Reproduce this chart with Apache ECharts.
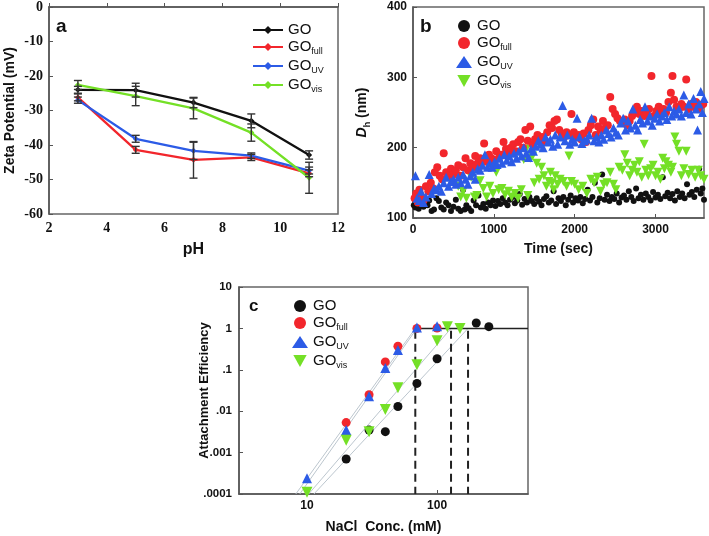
<!DOCTYPE html>
<html><head><meta charset="utf-8">
<script src="https://cdn.jsdelivr.net/npm/echarts@6/dist/echarts.min.js"></script>
<style>html,body{margin:0;padding:0;background:#fff}#c{width:709px;height:536px}</style>
</head><body><div id="c"></div>
<script>
// ---------- Panel a: zeta potential vs pH ----------
const phVals = [3, 5, 7, 9, 11];
const zetaGO = [-24.0, -24.1, -27.7, -33.0, -42.9];
const zetaFull = [-26.2, -41.4, -44.3, -43.6, -48.2];
const zetaUV = [-27.0, -38.2, -41.7, -43.1, -47.4];
const zetaVis = [-22.6, -25.8, -29.4, -36.4, -49.5];
const errGO = [1.0, 2.0, 1.5, 2.0, 1.2];
const errFull = [1.0, 1.0, 5.3, 0.9, 1.0];
const errUV = [0.9, 1.0, 2.5, 0.8, 1.0];
const errVis = [1.3, 2.8, 3.0, 2.5, 4.5];
const phTicks = [2, 4, 6, 8, 10, 12];
const zetaTicks = [0, -10, -20, -30, -40, -50, -60];

// ---------- Panel b: hydrodynamic diameter vs time ----------
const dhGO = [[10,118],[30,115],[50,120],[70,113],[90,117],[110,119],[130,116],[150,121],[180,118],[200,125],[230,110],[260,112],[290,128],[320,124],[350,115],[380,112],[410,122],[440,118],[470,110],[500,116],[530,126],[560,113],[590,110],[620,140],[640,112],[660,118],[690,114],[720,110],[750,125],[780,118],[810,132],[840,115],[870,120],[900,113],[930,122],[960,118],[990,125],[1020,117],[1050,124],[1080,120],[1110,128],[1140,122],[1170,118],[1200,126],[1230,130],[1260,121],[1290,125],[1320,134],[1350,119],[1380,127],[1410,122],[1440,130],[1470,124],[1500,120],[1530,128],[1560,123],[1590,118],[1620,127],[1650,131],[1680,122],[1710,125],[1740,138],[1770,120],[1800,128],[1830,124],[1860,130],[1890,118],[1920,126],[1950,132],[1980,122],[2010,128],[2040,125],[2070,130],[2100,121],[2130,127],[2160,140],[2190,125],[2220,130],[2250,150],[2280,122],[2310,128],[2340,162],[2370,126],[2400,133],[2430,124],[2460,130],[2490,127],[2520,135],[2550,122],[2580,129],[2610,132],[2640,126],[2670,138],[2700,130],[2730,124],[2760,142],[2790,128],[2820,133],[2850,126],[2880,135],[2910,130],[2940,125],[2970,137],[3000,129],[3030,133],[3060,127],[3090,158],[3120,131],[3150,136],[3180,128],[3210,134],[3240,125],[3270,138],[3300,130],[3330,135],[3360,128],[3390,148],[3420,133],[3450,137],[3480,130],[3510,140],[3540,170],[3560,135],[3580,142],[3600,126]];
const dhFull = [[20,128],[40,135],[60,122],[80,140],[100,130],[130,125],[160,145],[190,138],[220,150],[250,142],[270,165],[300,172],[330,160],[360,155],[380,192],[410,165],[440,158],[470,170],[500,162],[530,168],[560,175],[590,160],[620,172],[650,185],[680,168],[710,178],[740,172],[770,188],[800,178],[830,185],[860,182],[880,206],[910,180],[940,190],[970,185],[1000,182],[1030,195],[1060,185],[1090,190],[1120,208],[1150,198],[1180,192],[1210,200],[1240,205],[1270,195],[1300,208],[1330,212],[1360,200],[1390,225],[1420,210],[1450,230],[1480,205],[1510,212],[1540,218],[1570,210],[1600,215],[1630,208],[1660,222],[1690,232],[1720,228],[1750,238],[1780,240],[1810,225],[1840,220],[1870,215],[1900,222],[1930,218],[1960,248],[1990,222],[2020,215],[2050,218],[2080,212],[2110,220],[2140,208],[2170,225],[2200,232],[2230,240],[2260,218],[2290,230],[2320,225],[2350,238],[2380,228],[2410,232],[2440,272],[2470,255],[2500,248],[2530,242],[2560,238],[2590,235],[2620,240],[2650,232],[2680,238],[2710,245],[2740,250],[2770,258],[2800,248],[2830,252],[2860,245],[2890,250],[2920,255],[2950,302],[2980,245],[3010,252],[3040,258],[3070,248],[3100,255],[3130,250],[3160,265],[3190,278],[3210,302],[3230,268],[3260,258],[3290,255],[3320,262],[3350,258],[3380,297],[3410,255],[3440,262],[3470,258],[3500,265],[3530,255],[3560,260],[3590,262]];
const dhUV = [[30,160],[50,128],[80,125],[100,138],[130,122],[160,130],[200,162],[230,135],[260,142],[290,140],[320,145],[350,138],[380,150],[410,158],[440,145],[470,152],[500,155],[530,148],[560,158],[590,150],[620,162],[650,155],[680,148],[710,160],[740,165],[770,155],[800,170],[830,168],[860,175],[890,190],[920,172],[950,178],[980,172],[1010,180],[1040,176],[1070,185],[1100,178],[1130,190],[1160,182],[1190,188],[1220,180],[1250,192],[1280,185],[1310,195],[1340,188],[1370,200],[1400,192],[1430,186],[1460,198],[1490,195],[1520,202],[1550,210],[1580,205],[1610,200],[1640,215],[1670,208],[1700,212],[1730,202],[1760,218],[1790,205],[1820,215],[1850,260],[1880,210],[1910,218],[1940,205],[1970,212],[2000,208],[2030,242],[2060,215],[2090,206],[2120,210],[2150,212],[2180,218],[2210,242],[2240,210],[2270,215],[2300,208],[2330,218],[2360,212],[2390,225],[2420,220],[2450,215],[2480,228],[2510,222],[2540,218],[2570,235],[2600,242],[2630,225],[2660,238],[2690,228],[2720,255],[2750,232],[2780,225],[2810,240],[2840,235],[2870,258],[2900,238],[2930,245],[2960,232],[2990,242],[3020,248],[3050,238],[3080,245],[3110,250],[3140,240],[3170,258],[3200,245],[3230,252],[3260,248],[3290,255],[3320,245],[3350,275],[3380,250],[3410,262],[3440,248],[3470,270],[3500,255],[3520,225],[3540,262],[3560,280],[3580,250],[3600,270]];
const dhVis = [[560,145],[590,130],[620,138],[660,128],[700,165],[720,158],[760,130],[790,132],[830,153],[870,142],[910,130],[950,145],[990,135],[1030,165],[1060,140],[1100,142],[1140,133],[1180,138],[1220,130],[1260,135],[1300,128],[1340,140],[1370,183],[1400,198],[1420,132],[1450,185],[1480,188],[1500,150],[1530,178],[1560,155],[1590,172],[1620,160],[1650,145],[1680,152],[1700,165],[1720,150],[1740,140],[1760,160],[1790,148],[1820,155],[1860,152],[1900,145],[1930,188],[1960,152],[2000,148],[2050,140],[2100,145],[2150,135],[2200,155],[2240,150],[2280,158],[2320,138],[2360,148],[2400,150],[2440,165],[2480,148],[2510,140],[2550,172],[2590,168],[2620,190],[2650,178],[2680,160],[2710,168],[2740,175],[2770,165],[2800,180],[2830,158],[2860,205],[2880,168],[2910,160],[2940,170],[2970,175],[3000,160],[3030,165],[3060,155],[3090,185],[3110,170],[3130,180],[3160,175],[3190,165],[3210,172],[3240,215],[3260,205],[3290,195],[3320,160],[3350,170],[3380,195],[3410,162],[3450,168],[3490,158],[3530,168],[3560,160],[3600,155]];
const timeTicks = [0, 1000, 2000, 3000];
const dhTicks = [100, 200, 300, 400];

// ---------- Panel c: attachment efficiency vs NaCl ----------
const aeGO = [[20,0.0007],[30,0.0035],[40,0.0032],[50,0.013],[70,0.047],[100,0.185],[200,1.35],[250,1.1]];
const aeFull = [[20,0.0053],[30,0.025],[40,0.155],[50,0.37],[70,1.0],[100,1.02]];
const aeUV = [[10,0.00024],[20,0.0035],[30,0.023],[40,0.11],[50,0.3],[70,1.05],[100,1.12]];
const aeVis = [[10,0.00011],[20,0.002],[30,0.0032],[40,0.011],[50,0.037],[70,0.133],[100,0.5],[120,1.1],[150,1.0]];
const fitFull = [[8.2,0.0001],[68,1]];
const fitUV = [[8.8,0.0001],[70,1]];
const fitVis = [[10.3,0.0001],[128,1]];
const fitGO = [[11.3,0.0001],[173,1]];
const ccc = [68, 128, 173];
const plateau = [[68,1],[500,1]];
const naclTicks = [10, 100];
const aeTicks = [10, 1, 0.1, 0.01, 0.001, 0.0001];

const C_BLACK = '#111111', C_RED = '#f2262c', C_BLUE = '#2c5be6', C_GREEN = '#74e026';
const DOWN_TRI = 'path://M0,0 L10,0 L5,9 Z';

const chart = echarts.init(document.getElementById('c'), null, {renderer: 'canvas'});

const legendRich = {
  m: {fontSize: 15, fontFamily: 'Liberation Sans', color: '#111', lineHeight: 16, verticalAlign: 'top'},
  s: {fontSize: 9, fontFamily: 'Liberation Sans', color: '#111', lineHeight: 10, padding: [8, 0, 0, 0], verticalAlign: 'top'}
};
function legendFmt(name) {
  const p = name.split('-');
  return '{m|GO}' + (p[2] ? '{s|' + p[2] + '}' : '');
}
const sans = 'Liberation Sans';
function axisBase(extra) {
  return Object.assign({
    axisLine: {show: true, lineStyle: {color: '#555', width: 1.5}},
    axisTick: {show: true, inside: true, length: 4, lineStyle: {color: '#555'}},
    splitLine: {show: false},
    nameMoveOverlap: false
  }, extra);
}
function lineSeries(name, ys, color) {
  return {
    name: name, type: 'line', xAxisIndex: 0, yAxisIndex: 0,
    data: phVals.map((x, i) => [x, ys[i]]),
    symbol: 'diamond', symbolSize: 6, showSymbol: true,
    lineStyle: {color: color, width: 2.3}, itemStyle: {color: color}, z: 3
  };
}
function errSeries(ys, es) {
  return {
    type: 'custom', xAxisIndex: 0, yAxisIndex: 0, silent: true, z: 4,
    data: phVals.map((x, i) => [x, ys[i], es[i]]),
    renderItem: function (params, api) {
      const x = api.value(0), y = api.value(1), e = api.value(2);
      const t = api.coord([x, y + e]), b = api.coord([x, y - e]);
      const w = 4, st = {stroke: '#333', lineWidth: 1.4};
      return {type: 'group', children: [
        {type: 'line', shape: {x1: t[0], y1: t[1], x2: b[0], y2: b[1]}, style: st},
        {type: 'line', shape: {x1: t[0] - w, y1: t[1], x2: t[0] + w, y2: t[1]}, style: st},
        {type: 'line', shape: {x1: b[0] - w, y1: b[1], x2: b[0] + w, y2: b[1]}, style: st}
      ]};
    }
  };
}
function scatterB(name, data, color, symbol, size) {
  return {name: name, type: 'scatter', xAxisIndex: 1, yAxisIndex: 1, data: data,
    symbol: symbol, symbolSize: size, itemStyle: {color: color, opacity: 1}};
}
function scatterC(name, data, color, symbol, size) {
  return {name: name, type: 'scatter', xAxisIndex: 2, yAxisIndex: 2, data: data,
    symbol: symbol, symbolSize: size, itemStyle: {color: color, opacity: 1}, z: 5};
}
function fitLine(data) {
  return {type: 'line', xAxisIndex: 2, yAxisIndex: 2, data: data, symbol: 'none', silent: true,
    lineStyle: {color: '#bcc6ce', width: 1}, z: 2};
}
const logLabel = v => {
  const r = Number(Number(v).toPrecision(3));
  return String(r).replace(/^0\./, '.');
};

const option = {
  backgroundColor: '#ffffff',
  animation: false,
  grid: [
    {left: 49, top: 7, width: 289, height: 207, show: true, borderColor: '#666', borderWidth: 1.5, outerBoundsMode: 'none'},
    {left: 413, top: 7, width: 291, height: 211, show: true, borderColor: '#666', borderWidth: 1.5, outerBoundsMode: 'none'},
    {left: 239, top: 287, width: 289, height: 207, show: true, borderColor: '#666', borderWidth: 1.5, outerBoundsMode: 'none'}
  ],
  xAxis: [
    axisBase({gridIndex: 0, type: 'value', min: phTicks[0], max: phTicks[phTicks.length - 1], interval: 2,
      name: 'pH', nameLocation: 'middle', nameGap: 28,
      nameTextStyle: {fontFamily: sans, fontWeight: 'bold', fontSize: 16, color: '#111'},
      axisLabel: {fontFamily: 'Liberation Serif', fontWeight: 'bold', fontSize: 14, color: '#111', margin: 7}}),
    axisBase({gridIndex: 1, type: 'value', min: timeTicks[0], max: 3600, interval: 1000,
      name: 'Time (sec)', nameLocation: 'middle', nameGap: 24,
      nameTextStyle: {fontFamily: sans, fontWeight: 'bold', fontSize: 14, color: '#111'},
      axisLabel: {fontFamily: sans, fontWeight: 'bold', fontSize: 12, color: '#111', margin: 6, showMaxLabel: false,
        formatter: v => String(v)}}),
    axisBase({gridIndex: 2, type: 'log', logBase: 10, min: 3, max: 500,
      name: 'NaCl  Conc. (mM)', nameLocation: 'middle', nameGap: 26,
      nameTextStyle: {fontFamily: sans, fontWeight: 'bold', fontSize: 14, color: '#111'},
      axisLabel: {fontFamily: sans, fontWeight: 'bold', fontSize: 12, color: '#111', margin: 6,
        showMinLabel: false, showMaxLabel: false,
        formatter: v => naclTicks.some(t => Math.abs(t - v) < 1e-6) ? String(Math.round(v)) : ''}})
  ],
  yAxis: [
    axisBase({gridIndex: 0, type: 'value', min: zetaTicks[zetaTicks.length - 1], max: zetaTicks[0], interval: 10,
      name: 'Zeta Potential (mV)', nameLocation: 'middle', nameGap: 32,
      nameTextStyle: {fontFamily: sans, fontWeight: 'bold', fontSize: 14, color: '#111'},
      axisLabel: {fontFamily: 'Liberation Serif', fontWeight: 'bold', fontSize: 14, color: '#111', margin: 6}}),
    axisBase({gridIndex: 1, type: 'value', min: dhTicks[0], max: dhTicks[dhTicks.length - 1], interval: 100,
      name: '{i|D}{s|h}{n| (nm)}', nameLocation: 'middle', nameGap: 42,
      nameTextStyle: {fontFamily: sans, fontWeight: 'bold', fontSize: 14, color: '#111',
        rich: {
          i: {fontFamily: sans, fontWeight: 'bold', fontStyle: 'italic', fontSize: 14, lineHeight: 16, verticalAlign: 'top'},
          s: {fontFamily: sans, fontWeight: 'bold', fontSize: 9, lineHeight: 10, padding: [8, 0, 0, 0], verticalAlign: 'top'},
          n: {fontFamily: sans, fontWeight: 'bold', fontSize: 14, lineHeight: 16, verticalAlign: 'top'}
        }},
      axisLabel: {fontFamily: sans, fontWeight: 'bold', fontSize: 12, color: '#111', margin: 6}}),
    axisBase({gridIndex: 2, type: 'log', logBase: 10, min: aeTicks[aeTicks.length - 1], max: aeTicks[0],
      name: 'Attachment Efficiency', nameLocation: 'middle', nameGap: 28,
      nameTextStyle: {fontFamily: sans, fontWeight: 'bold', fontSize: 13, color: '#111'},
      axisLabel: {fontFamily: sans, fontWeight: 'bold', fontSize: 11.5, color: '#111', margin: 7, formatter: logLabel}})
  ],
  legend: [
    {left: 247, top: 17, orient: 'vertical', itemWidth: 30, itemHeight: 10, itemGap: 2,
      data: ['a-GO', 'a-GO-full', 'a-GO-UV', 'a-GO-vis'], formatter: legendFmt,
      textStyle: {rich: legendRich}, selectedMode: false},
    {left: 451, top: 13, orient: 'vertical', itemWidth: 16, itemHeight: 12, itemGap: 2,
      data: ['b-GO', 'b-GO-full', 'b-GO-UV', 'b-GO-vis'], formatter: legendFmt,
      textStyle: {rich: legendRich}, selectedMode: false},
    {left: 287, top: 293, orient: 'vertical', itemWidth: 16, itemHeight: 12, itemGap: 2,
      data: ['c-GO', 'c-GO-full', 'c-GO-UV', 'c-GO-vis'], formatter: legendFmt,
      textStyle: {rich: legendRich}, selectedMode: false}
  ],
  graphic: [
    {type: 'text', left: 56, top: 17, style: {text: 'a', font: 'bold 19px "Liberation Sans"', fill: '#111'}},
    {type: 'text', left: 420, top: 17, style: {text: 'b', font: 'bold 19px "Liberation Sans"', fill: '#111'}},
    {type: 'text', left: 249, top: 298, style: {text: 'c', font: 'bold 17px "Liberation Sans"', fill: '#111'}}
  ],
  series: [
    lineSeries('a-GO', zetaGO, C_BLACK),
    lineSeries('a-GO-full', zetaFull, C_RED),
    lineSeries('a-GO-UV', zetaUV, C_BLUE),
    lineSeries('a-GO-vis', zetaVis, C_GREEN),
    errSeries(zetaGO, errGO), errSeries(zetaFull, errFull), errSeries(zetaUV, errUV), errSeries(zetaVis, errVis),

    scatterB('b-GO', dhGO, C_BLACK, 'circle', 6),
    scatterB('b-GO-vis', dhVis, C_GREEN, DOWN_TRI, 9),
    scatterB('b-GO-full', dhFull, C_RED, 'circle', 8),
    scatterB('b-GO-UV', dhUV, C_BLUE, 'triangle', 9),

    fitLine(fitFull), fitLine(fitUV), fitLine(fitVis), fitLine(fitGO),
    {type: 'line', xAxisIndex: 2, yAxisIndex: 2, data: plateau, symbol: 'none', silent: true,
      lineStyle: {color: '#222', width: 1.5}, z: 3},
    ...ccc.map(x => ({type: 'line', xAxisIndex: 2, yAxisIndex: 2, data: [[x, 0.88], [x, 0.0001]],
      symbol: 'none', silent: true, lineStyle: {color: '#222', width: 2, type: [8, 5]}, z: 3})),
    scatterC('c-GO', aeGO, C_BLACK, 'circle', 9),
    scatterC('c-GO-full', aeFull, C_RED, 'circle', 9),
    scatterC('c-GO-UV', aeUV, C_BLUE, 'triangle', 10),
    scatterC('c-GO-vis', aeVis, C_GREEN, DOWN_TRI, 11)
  ]
};
chart.setOption(option);
</script></body></html>
